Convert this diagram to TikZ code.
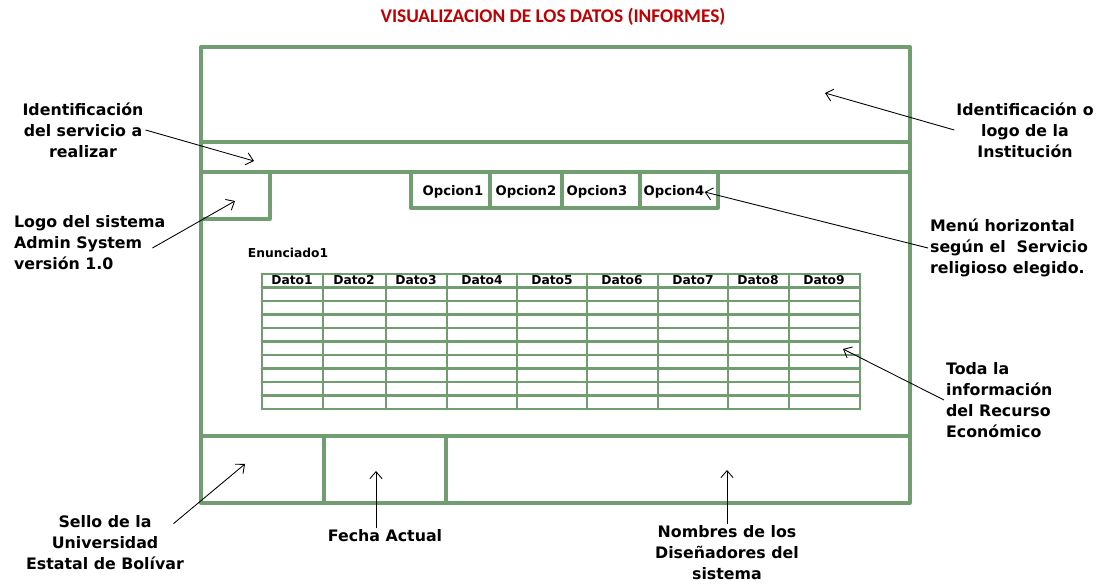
\documentclass[tikz,border=0pt]{standalone}
\usepackage{fontspec}
\setmainfont{DejaVu Sans}
\newfontfamily\titlefont{Carlito}
\usetikzlibrary{arrows.meta}
\definecolor{verdemarco}{RGB}{112,158,112}
\definecolor{rojotitulo}{RGB}{192,0,0}
\tikzset{
  marco/.style={draw=verdemarco,line width=1.9pt,line join=round,line cap=round},
  tabla/.style={draw=verdemarco,line width=1.6pt,line cap=round},
  nota/.style={font=\bfseries\fontsize{9}{12}\selectfont,inner sep=1pt},
  opc/.style={font=\bfseries\fontsize{7.5}{9}\selectfont,inner sep=0pt},
  celda/.style={font=\bfseries\fontsize{7}{8}\selectfont,inner sep=0pt},
  flecha/.style={-{Straight Barb[length=4pt,width=7pt]},line width=0.5pt}
}
\begin{document}
\begin{tikzpicture}[x=0.02cm,y=-0.02cm]
\useasboundingbox (0,0) rectangle (1107,584);
\node[font=\titlefont\bfseries\fontsize{11}{13}\selectfont,text=rojotitulo] (titulo) at (553,17) {VISUALIZACION DE LOS DATOS (INFORMES)};
% pantalla
\draw[marco] (201,47) rectangle (910,503);
\draw[marco] (201,142) -- (910,142);
\draw[marco] (201,172) -- (910,172);
\draw[marco] (201,436) -- (910,436);
\draw[marco] (270,172) -- (270,219) -- (201,219);
\draw[marco] (324,436) -- (324,503);
\draw[marco] (446,436) -- (446,503);
% menu
\draw[marco] (411,172) -- (411,208) -- (718,208) -- (718,172);
\foreach \x in {490,562,640} \draw[marco] (\x,172) -- (\x,208);
\node[opc] (op1) at (453,192) {Opcion1};
\node[opc] (op2) at (526,192) {Opcion2};
\node[opc] (op3) at (597,192) {Opcion3};
\node[opc] (op4) at (674,192) {Opcion4};
% tabla
\node[celda] (enunciado) at (288,253) {Enunciado1};
\foreach \i in {0,...,10} \draw[tabla] (262,{274+13.5*\i}) -- (860,{274+13.5*\i});
\foreach \x in {262,323,386,447,517,587,658,728,789,860} \draw[tabla] (\x,274) -- (\x,409);
\foreach \x/\n in {292/1,354/2,416/3,482/4,552/5,622/6,693/7,758/8,824/9}
  \node[celda] (dato\n) at (\x,280) {Dato\n};
% notas
\node[nota,align=center] (lblServ) at (83,130) {Identificación\\del servicio a\\realizar};
\node[nota,align=left,anchor=west] (lblLogo) at (12,243) {Logo del sistema\\Admin System\\versión 1.0};
\node[nota,align=center] (lblInst) at (1025,130) {Identificación o\\logo de la\\Institución};
\node[nota,align=left,anchor=west] (lblMenu) at (928,248) {Menú horizontal\\según el~ Servicio\\religioso elegido.};
\node[nota,align=left,anchor=west] (lblInfo) at (944,400) {Toda la\\información\\del Recurso\\Económico};
\node[nota,align=center] (lblSello) at (105,543) {Sello de la\\Universidad\\Estatal de Bolívar};
\node[nota] (lblFecha) at (385,536) {Fecha Actual};
\node[nota,align=center] (lblNombres) at (727,553) {Nombres de los\\Diseñadores del\\sistema};
\coordinate (pServ) at (254,161);
\coordinate (pLogo) at (235,201);
\coordinate (pInst) at (825,93);
\coordinate (pInfo) at (843,349);
\coordinate (pSello) at (245,464);
\coordinate (pFecha) at (376,471);
\coordinate (pNombres) at (727,470);
\draw[flecha] (lblServ.east) -- (pServ);
\draw[flecha] ([xshift=-0.3cm,yshift=-0.1cm]lblLogo.east) -- (pLogo);
\draw[flecha] (lblInst.west) -- (pInst);
\draw[flecha] (lblMenu.west) -- (op4.east);
\draw[flecha] (lblInfo.west) -- (pInfo);
\draw[flecha] ([xshift=-0.25cm,yshift=-0.2cm]lblSello.north east) -- (pSello);
\draw[flecha] (lblFecha.north -| pFecha) -- (pFecha);
\draw[flecha] (lblNombres.north) -- (pNombres);
\end{tikzpicture}
\end{document}
